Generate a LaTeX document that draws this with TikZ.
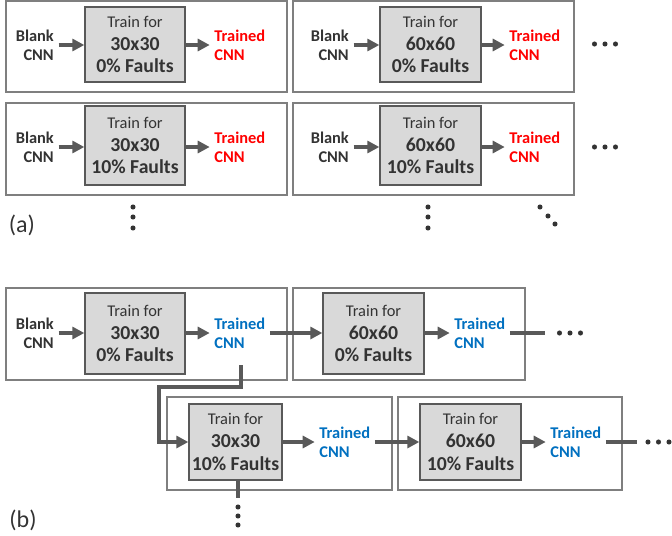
\documentclass[tikz,border=0pt]{standalone}
\usepackage{fontspec}
\setmainfont{Carlito}
\usetikzlibrary{arrows.meta}
\definecolor{txtgray}{HTML}{333333}
\definecolor{linegray}{HTML}{595959}
\definecolor{boxgray}{HTML}{D9D9D9}
\definecolor{framegray}{HTML}{7F7F7F}
\definecolor{cnnblue}{HTML}{0070C0}
\definecolor{cnnred}{HTML}{FF0000}

\newcommand{\trainfor}[2]{Train for\\{\bfseries\fontsize{14.8}{17}\selectfont #1}\\{\bfseries\fontsize{14.8}{17}\selectfont #2}}

\tikzset{
  stage/.style={draw=framegray, line width=1pt, fill=white, inner sep=0pt},
  trainbox/.style={draw=linegray, line width=1pt, fill=boxgray, inner sep=0pt,
    align=center, text=txtgray, font=\fontsize{12.3}{17}\selectfont},
  blankcnn/.style={anchor=east, align=right, text=txtgray, font=\bfseries\fontsize{12.3}{14.2}\selectfont},
  trainedcnn/.style={anchor=west, align=left, text=#1, font=\bfseries\fontsize{12.3}{14.2}\selectfont},
  flow/.style={draw=linegray, line width=3pt, -{Triangle[length=9pt,width=9pt]}},
  tail/.style={draw=linegray, line width=3pt},
  dot/.style={circle, fill=txtgray, inner sep=0pt, minimum size=3.8pt},
  panel/.style={text=txtgray, font=\fontsize{18}{20}\selectfont},
}

\begin{document}
\begin{tikzpicture}[x=0.75pt,y=-0.75pt]
\useasboundingbox (0,0) rectangle (672,536);

% (a) every model trained from scratch
\node[stage, minimum width=210.75pt, minimum height=68.25pt] (a11) at (146.5,46.5) {};
\node[stage, minimum width=210.75pt, minimum height=68.25pt] (a12) at (433.5,46.5) {};
\node[stage, minimum width=210.75pt, minimum height=69pt] (a21) at (146.5,149) {};
\node[stage, minimum width=210.75pt, minimum height=69pt] (a22) at (433.5,149) {};

\node[blankcnn] (ab11) at (58.5,45) {Blank\\CNN};
\node[trainbox, minimum width=75pt, minimum height=56.25pt] (ag11) at (135,44.5) {\trainfor{30x30}{0\% Faults}};
\node[trainedcnn=cnnred] (at11) at (209.7,45) {Trained\\CNN};
\node[blankcnn] (ab12) at (353.5,45) {Blank\\CNN};
\node[trainbox, minimum width=75.75pt, minimum height=56.25pt] (ag12) at (430.5,44.5) {\trainfor{60x60}{0\% Faults}};
\node[trainedcnn=cnnred] (at12) at (504.7,45) {Trained\\CNN};

\node[blankcnn] (ab21) at (58.5,147) {Blank\\CNN};
\node[trainbox, minimum width=75pt, minimum height=59.25pt] (ag21) at (135,145.5) {\trainfor{30x30}{10\% Faults}};
\node[trainedcnn=cnnred] (at21) at (209.7,147) {Trained\\CNN};
\node[blankcnn] (ab22) at (353.5,147) {Blank\\CNN};
\node[trainbox, minimum width=75.75pt, minimum height=59.25pt] (ag22) at (430.5,145.5) {\trainfor{60x60}{10\% Faults}};
\node[trainedcnn=cnnred] (at22) at (504.7,147) {Trained\\CNN};

\foreach \r in {11,12,21,22}{
  \draw[flow] (ab\r.east) -- (ab\r.east -| ag\r.west);
  \draw[flow] (at\r.west -| ag\r.east) -- (at\r.west);
}

\foreach \y in {44,147}
  \foreach \x in {594.5,605,615.5}
    \node[dot] at (\x,\y) {};
\foreach \x in {133,428}
  \foreach \y in {207,217,228}
    \node[dot] at (\x,\y) {};
\node[dot] at (540,207) {};
\node[dot] at (548,216) {};
\node[dot] at (555,224) {};
\node[panel] (tagA) at (22,225) {(a)};

% (b) each model starts from the previous one
\node[stage, minimum width=210.75pt, minimum height=69pt] (b11) at (146.5,334) {};
\node[stage, minimum width=174pt, minimum height=69pt] (b12) at (409,334) {};
\node[stage, minimum width=168.75pt, minimum height=69.75pt] (b21) at (279.5,443.5) {};
\node[stage, minimum width=168pt, minimum height=69.75pt] (b22) at (510,443.5) {};

\node[blankcnn] (bb11) at (58.5,333) {Blank\\CNN};
\node[trainbox, minimum width=75pt, minimum height=60.75pt] (bg11) at (135,333.5) {\trainfor{30x30}{0\% Faults}};
\node[trainedcnn=cnnblue] (bt11) at (209.7,333) {Trained\\CNN};
\node[trainbox, minimum width=75.75pt, minimum height=60.75pt] (bg12) at (373.5,333.5) {\trainfor{60x60}{0\% Faults}};
\node[trainedcnn=cnnblue] (bt12) at (449.7,333) {Trained\\CNN};
\node[trainbox, minimum width=69.75pt, minimum height=57pt] (bg21) at (235.5,442) {\trainfor{30x30}{10\% Faults}};
\node[trainedcnn=cnnblue] (bt21) at (314.7,442) {Trained\\CNN};
\node[trainbox, minimum width=75.75pt, minimum height=57pt] (bg22) at (470.5,442) {\trainfor{60x60}{10\% Faults}};
\node[trainedcnn=cnnblue] (bt22) at (545.7,442) {Trained\\CNN};

\draw[flow] (bb11.east) -- (bb11.east -| bg11.west);
\draw[flow] (bt11.west -| bg11.east) -- (bt11.west);
\draw[flow] (bt11.east) -- (bt11.east -| bg12.west);
\draw[flow] (bt12.west -| bg12.east) -- (bt12.west);
\draw[flow] (bt21.west -| bg21.east) -- (bt21.west);
\draw[flow] (bt21.east) -- (bt21.east -| bg22.west);
\draw[flow] (bt22.west -| bg22.east) -- (bt22.west);

\coordinate (drop) at (241,365);
\coordinate (bend) at (159,387);
\draw[flow] (drop) |- (bend) |- (bg21.west);

\coordinate (end12) at (545,333);
\coordinate (end22) at (637,442);
\coordinate (end21) at (238,498);
\draw[tail] (bt12.east) -- (end12);
\draw[tail] (bt22.east) -- (end22);
\draw[tail] (end21 |- bg21.south) -- (end21);

\foreach \x in {559.5,570,580.5}
  \node[dot] at (\x,333) {};
\foreach \x in {648,658.5,669}
  \node[dot] at (\x,442) {};
\foreach \y in {507,516,525}
  \node[dot] at (238,\y) {};
\node[panel] (tagB) at (23,520) {(b)};
\end{tikzpicture}
\end{document}
